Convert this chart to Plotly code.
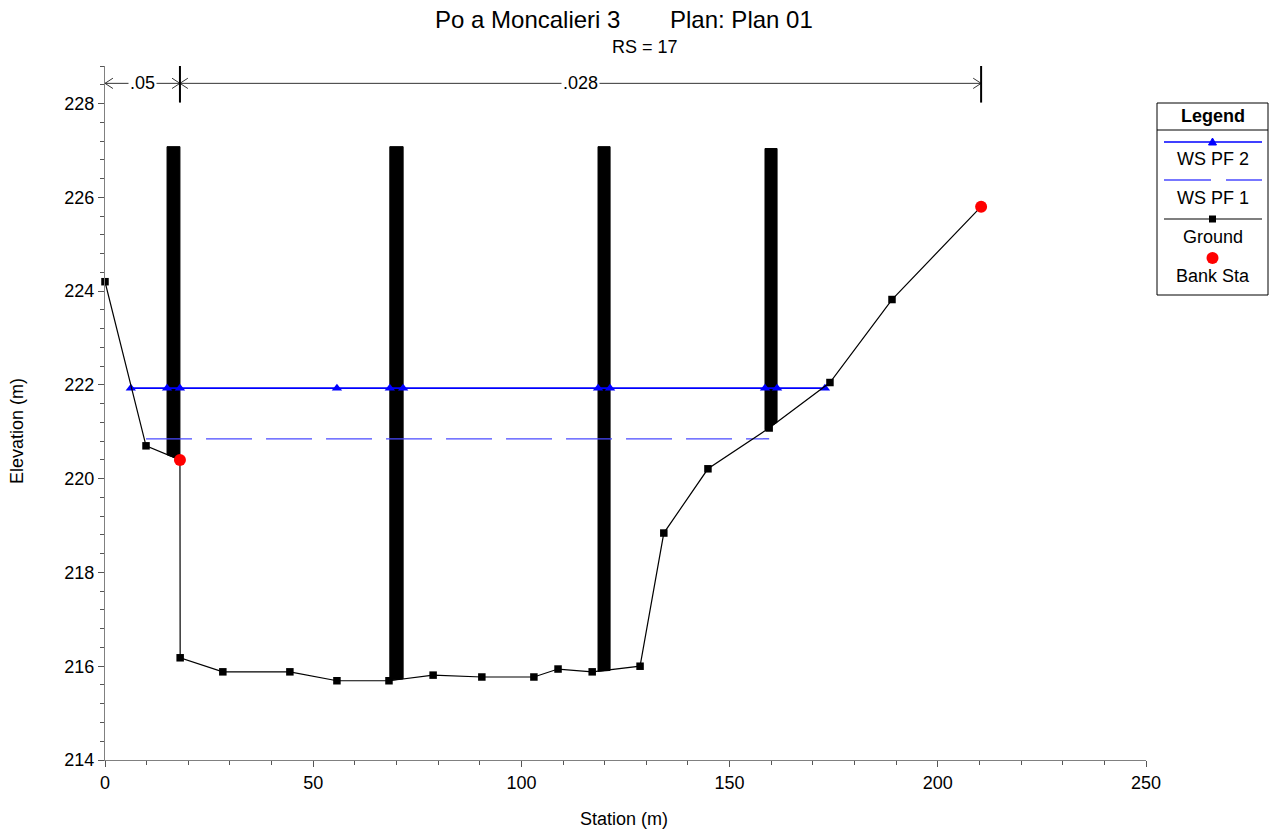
import plotly.graph_objects as go

# ---------------- data ----------------
ground_sta = [0.0, 9.85, 18.0, 18.05, 28.3, 44.4, 55.7, 68.2, 78.8, 90.5, 103.0, 108.8,
              117.0, 128.5, 134.2, 144.8, 159.5, 174.1, 189.0, 210.4]
ground_elev = [224.2, 220.70, 220.40, 216.18, 215.88, 215.88, 215.69, 215.69, 215.81, 215.77,
               215.77, 215.94, 215.88, 216.0, 218.84, 220.21, 221.08, 222.05, 223.82, 225.80]

bank_sta = [18.0, 210.4]
bank_elev = [220.40, 225.80]

ws2_sta = [6.2, 14.9, 18.0, 55.7, 68.4, 71.6, 118.4, 121.3, 158.5, 161.4, 172.9]
ws2_elev = 221.93

ws1_sta = [9.85, 159.5]
ws1_elev = 220.85

pier_left = [14.9, 68.4, 118.4, 158.5]
pier_right = [18.0, 71.6, 121.3, 161.4]
pier_top = [227.08, 227.08, 227.08, 227.04]
pier_bot_left = [220.51, 215.70, 215.89, 221.04]
pier_bot_right = [220.40, 215.73, 215.91, 221.20]

n_bounds = [0.0, 18.0, 210.4]
n_values = [".05", ".028"]

title_left = "Po a Moncalieri 3"
title_right = "Plan: Plan 01"
subtitle = "RS = 17"
x_title = "Station (m)"
y_title = "Elevation (m)"

FONT = "Liberation Sans, Arial, sans-serif"
FS = 18

# ---------------- plot area (pixels) ----------------
PL, PR, PT, PB = 105, 1146, 66, 760
W, H = 1271, 829


def px(x):
    return (x - PL) / (PR - PL)


def py(y):
    return (PB - y) / (PB - PT)


fig = go.Figure()

# piers
for i in range(len(pier_left)):
    fig.add_trace(go.Scatter(
        x=[pier_left[i], pier_right[i], pier_right[i], pier_left[i], pier_left[i]],
        y=[pier_top[i], pier_top[i], pier_bot_right[i], pier_bot_left[i], pier_top[i]],
        mode="lines", fill="toself", fillcolor="black",
        line=dict(color="black", width=1), showlegend=False, hoverinfo="skip"))

# WS PF 1
fig.add_trace(go.Scatter(
    x=ws1_sta, y=[ws1_elev] * len(ws1_sta), mode="lines",
    line=dict(color="#4a4aff", width=1.3, dash="46px,14px"), name="WS PF 1", showlegend=False))

# WS PF 2
fig.add_trace(go.Scatter(
    x=ws2_sta, y=[ws2_elev] * len(ws2_sta), mode="lines+markers",
    line=dict(color="#0000ff", width=1.6),
    marker=dict(symbol="triangle-up", size=9, color="#0000ff"), name="WS PF 2", showlegend=False))

# Ground
fig.add_trace(go.Scatter(
    x=ground_sta, y=ground_elev, mode="lines+markers", cliponaxis=False,
    line=dict(color="black", width=1.2),
    marker=dict(symbol="square", size=7.5, color="black"), name="Ground", showlegend=False))

# Bank Sta
fig.add_trace(go.Scatter(
    x=bank_sta, y=bank_elev, mode="markers", cliponaxis=False,
    marker=dict(symbol="circle", size=12, color="#ff0000"), name="Bank Sta", showlegend=False))

shapes = []
annotations = []


def text_at(x, y, s, size=FS, bold=False, angle=0):
    annotations.append(dict(x=px(x), y=py(y), xref="paper", yref="paper",
                            text=f"<b>{s}</b>" if bold else s, showarrow=False,
                            xanchor="center", yanchor="middle", textangle=angle,
                            font=dict(family=FONT, size=size, color="black")))


# ---------------- Manning's n annotations at top ----------------
ny = 228.43
ah_dx, ah_dy = 1.9, 0.11
for i in range(len(n_values)):
    a, b = n_bounds[i], n_bounds[i + 1]
    shapes.append(dict(type="line", xref="x", yref="y", x0=a, x1=b, y0=ny, y1=ny,
                       line=dict(color="#333333", width=1)))
    for sx, sgn in ((a, 1), (b, -1)):
        for d in (1, -1):
            shapes.append(dict(type="line", xref="x", yref="y", x0=sx, y0=ny,
                               x1=sx + sgn * ah_dx, y1=ny + d * ah_dy,
                               line=dict(color="#333333", width=1)))
    annotations.append(dict(x=(a + b) / 2, y=ny, xref="x", yref="y", text=n_values[i],
                            showarrow=False, bgcolor="white", borderpad=1,
                            xanchor="center", yanchor="middle",
                            font=dict(family=FONT, size=FS, color="black")))
for bnd in n_bounds[1:]:
    shapes.append(dict(type="line", xref="x", yref="y", x0=bnd, x1=bnd, y0=228.02, y1=228.85,
                       line=dict(color="black", width=2)))

# ---------------- Titles ----------------
text_at(527.5, 19, title_left, size=24)
text_at(741.5, 19, title_right, size=24)
text_at(645, 47, subtitle, size=FS)
text_at(624, 819, x_title, size=FS)
text_at(17, 431, y_title, size=FS, angle=-90)

# ---------------- Legend (drawn) ----------------
LX0, LX1, LY0, LY1 = 1157, 1268, 103, 295
LC = (LX0 + LX1) / 2
shapes.append(dict(type="rect", xref="paper", yref="paper", x0=px(LX0), x1=px(LX1),
                   y0=py(LY1), y1=py(LY0), line=dict(color="black", width=1), fillcolor="white",
                   layer="below"))
shapes.append(dict(type="line", xref="paper", yref="paper", x0=px(LX0), x1=px(LX1),
                   y0=py(130), y1=py(130), line=dict(color="black", width=1)))
text_at(LC, 116, "Legend", bold=True)

# WS PF 2
shapes.append(dict(type="line", xref="paper", yref="paper", x0=px(1164), x1=px(1262),
                   y0=py(142), y1=py(142), line=dict(color="#0000ff", width=1.5)))
shapes.append(dict(type="path", xref="paper", yref="paper",
                   path=f"M {px(LC-4)} {py(145)} L {px(LC+4)} {py(145)} L {px(LC)} {py(138)} Z",
                   fillcolor="#0000ff", line=dict(color="#0000ff", width=1)))
text_at(LC, 159, "WS PF 2")
# WS PF 1
for a, b in ((1164, 1211), (1226, 1262)):
    shapes.append(dict(type="line", xref="paper", yref="paper", x0=px(a), x1=px(b),
                       y0=py(180), y1=py(180), line=dict(color="#4a4aff", width=1.3)))
text_at(LC, 198, "WS PF 1")
# Ground
shapes.append(dict(type="line", xref="paper", yref="paper", x0=px(1164), x1=px(1262),
                   y0=py(219), y1=py(219), line=dict(color="black", width=1.2)))
shapes.append(dict(type="rect", xref="paper", yref="paper", x0=px(LC-3.5), x1=px(LC+3.5),
                   y0=py(222.5), y1=py(215.5), fillcolor="black", line=dict(color="black", width=0)))
text_at(LC, 237, "Ground")
# Bank Sta
shapes.append(dict(type="circle", xref="paper", yref="paper", x0=px(LC-6), x1=px(LC+6),
                   y0=py(264), y1=py(252), fillcolor="#ff0000", line=dict(color="#ff0000", width=0)))
text_at(LC, 276, "Bank Sta")

axis_common = dict(showgrid=False, zeroline=False, showline=True, linecolor="#808080",
                   linewidth=1, ticks="outside", ticklen=6, tickcolor="#555555",
                   tickfont=dict(family=FONT, size=FS, color="black"))

fig.update_layout(
    width=W, height=H,
    margin=dict(l=PL, r=W - PR, t=PT, b=H - PB),
    plot_bgcolor="white", paper_bgcolor="white",
    shapes=shapes, annotations=annotations,
    showlegend=False,
    xaxis=dict(range=[0, 250], tick0=0, dtick=50,
               minor=dict(dtick=10, tick0=0, ticks="outside", ticklen=4, tickcolor="#555555"),
               **axis_common),
    yaxis=dict(range=[214, 228.8], tick0=214, dtick=2,
               minor=dict(dtick=0.4, tick0=214, ticks="outside", ticklen=4, tickcolor="#555555"),
               **axis_common),
)

fig.write_html("out.html", config={"displayModeBar": False},
               post_script="document.body.style.margin='0';document.body.style.overflow='hidden';")
